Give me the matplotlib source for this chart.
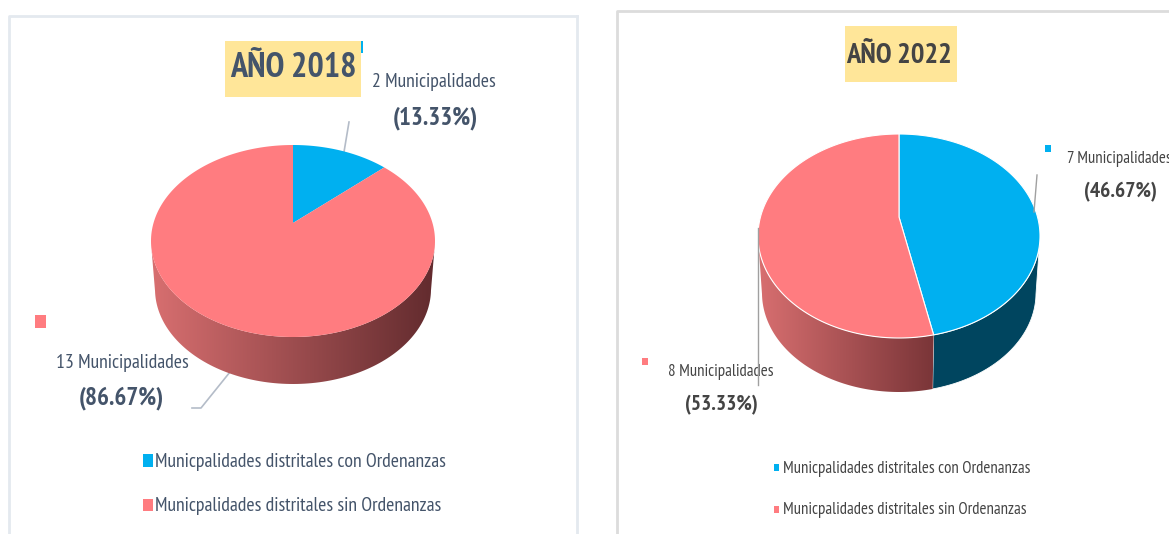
import numpy as np
import matplotlib
matplotlib.use("Agg")
import matplotlib.pyplot as plt
from matplotlib.colors import LinearSegmentedColormap
from matplotlib.patches import Rectangle, Polygon

plt.rcParams['font.family'] = ['PT Sans Narrow', 'Lato', 'DejaVu Sans']

# values
legend_labels = ["Municpalidades distritales con Ordenanzas", "Municpalidades distritales sin Ordenanzas"]
counts_2018 = [2, 13]
counts_2022 = [7, 8]
pct_2018 = ["(13.33%)", "(86.67%)"]
pct_2022 = ["(46.67%)", "(53.33%)"]
muni_2018 = ["2 Municipalidades", "13 Municipalidades"]
muni_2022 = ["7 Municipalidades", "8 Municipalidades"]

BLUE = "#00b0f0"
RED = "#ff7c80"
TXT_18 = "#44546a"
TXT_22 = "#444444"

fig = plt.figure(figsize=(11.69, 5.34), dpi=100)
ax = fig.add_axes([0, 0, 1, 1])


def pie3d(counts, cx, cy, rx, ry, apex_y, cy2, rx2, ry2, grad_left, grad_right, blue_wall, outline="none"):
    # slice angles go clockwise from the top, rays start at the apex
    def rim(theta):
        dx = np.sin(theta) * rx
        dy = -np.cos(theta) * ry
        a = (dx / rx) ** 2 + (dy / ry) ** 2
        b = 2 * dy * (apex_y - cy) / ry ** 2
        c = ((apex_y - cy) / ry) ** 2 - 1
        s = (-b + np.sqrt(b * b - 4 * a * c)) / (2 * a)
        return cx + s * dx, apex_y + s * dy

    total = sum(counts)
    start = 0.0
    cmap = LinearSegmentedColormap.from_list("wall", [grad_left, grad_right])
    for i, c in enumerate(counts):
        end = start + c / total * 2 * np.pi
        th = np.linspace(start, end, 240)
        x, y = rim(th)
        # front wall first
        front = y >= cy
        if front.any():
            xf, yf = x[front], y[front]
            xb = cx + (xf - cx) * rx2 / rx
            yb = cy2 + (yf - cy) * ry2 / ry
            pts = np.vstack([np.c_[xf, yf], np.c_[xb, yb][::-1]])
            if i == 0:
                ax.add_patch(Polygon(pts, closed=True, fc=blue_wall, ec=outline, lw=0.6, zorder=2))
            else:
                im = ax.imshow(np.linspace(0, 1, 256).reshape(1, -1), cmap=cmap, aspect="auto",
                               extent=[xf.min(), xf.max(), cy2 + ry2, cy], zorder=2)
                im.set_clip_path(Polygon(pts, closed=True, transform=ax.transData))
        top = np.vstack([[cx, apex_y], np.c_[x, y]])
        ax.add_patch(Polygon(top, closed=True, fc=[BLUE, RED][i], ec=outline, lw=0.8, zorder=3))
        start = end


def panel(x0, y0, x1, col):
    ax.plot([x0, x0, x1], [534, y0, y0], color=col, lw=2, zorder=1)


# left panel
panel(9, 16, 577, "#e4e9ef")
ax.plot([577, 577], [16, 534], color="#e4e9ef", lw=2, zorder=1)
pie3d(counts_2018, 293, 241, 142, 96, 223, 289, 138, 95, "#d86f70", "#622b2e", BLUE)
ax.add_patch(Rectangle((225, 41), 136, 56, fc="#ffe699", ec="none", zorder=1))
ax.text(293, 68, "AÑO 2018", color=TXT_18, fontsize=24.6, fontweight="bold", ha="center", va="center")
ax.add_patch(Rectangle((361, 41), 2, 12, fc=BLUE, ec="none"))
ax.text(434, 82, muni_2018[0], color=TXT_18, fontsize=14.2, ha="center", va="center")
ax.text(435, 118, pct_2018[0], color=TXT_18, fontsize=18, fontweight="bold", ha="center", va="center")
ax.plot([349, 344], [122, 152], color="#b4bcc8", lw=1.2, zorder=2)
ax.add_patch(Rectangle((35, 315), 11, 13, fc=RED, ec="none"))
ax.text(122, 363, muni_2018[1], color=TXT_18, fontsize=14.2, ha="center", va="center")
ax.text(121, 398, pct_2018[1], color=TXT_18, fontsize=18, fontweight="bold", ha="center", va="center")
ax.plot([230, 201, 192], [372, 408, 408], color="#b4bcc8", lw=1.2, zorder=1)
ax.add_patch(Rectangle((143, 454), 10, 13, fc=BLUE, ec="none"))
ax.add_patch(Rectangle((143, 499), 10, 12, fc=RED, ec="none"))
ax.text(155, 462, legend_labels[0], color=TXT_18, fontsize=14.2, va="center")
ax.text(155, 506, legend_labels[1], color=TXT_18, fontsize=14.2, va="center")

# right panel
panel(617, 11, 1169, "#dcdcdc")
pie3d(counts_2022, 899, 236, 141, 102, 217, 293, 137, 99, "#d86f70", "#7a3538", "#00455f", outline="white")
ax.add_patch(Rectangle((845, 26), 112, 56, fc="#ffe699", ec="none", zorder=1))
ax.text(899, 56, "AÑO 2022", color=TXT_22, fontsize=20.6, fontweight="bold", ha="center", va="center")
ax.add_patch(Rectangle((1045, 145), 6, 7, fc=BLUE, ec="none"))
ax.text(1067, 159, muni_2022[0], color=TXT_22, fontsize=12.1, va="center")
ax.text(1120, 192, pct_2022[0], color=TXT_22, fontsize=15.5, fontweight="bold", ha="center", va="center")
ax.plot([1037, 1034], [175, 212], color="#a0a0a0", lw=1, zorder=4)
ax.add_patch(Rectangle((642, 358), 6, 7, fc=RED, ec="none"))
ax.text(721, 372, muni_2022[1], color=TXT_22, fontsize=12.1, ha="center", va="center")
ax.text(721, 405, pct_2022[1], color=TXT_22, fontsize=15.5, fontweight="bold", ha="center", va="center")
ax.plot([758, 758], [228, 385], color="#a0a0a0", lw=1, zorder=4)
ax.add_patch(Rectangle((774, 464), 5, 7, fc=BLUE, ec="none"))
ax.add_patch(Rectangle((774, 506), 5, 7, fc=RED, ec="none"))
ax.text(783, 469, legend_labels[0], color=TXT_22, fontsize=12.1, va="center")
ax.text(783, 510, legend_labels[1], color=TXT_22, fontsize=12.1, va="center")

ax.set_xlim(0, 1169)
ax.set_ylim(534, 0)
ax.axis("off")
fig.savefig("out.png", dpi=100)
